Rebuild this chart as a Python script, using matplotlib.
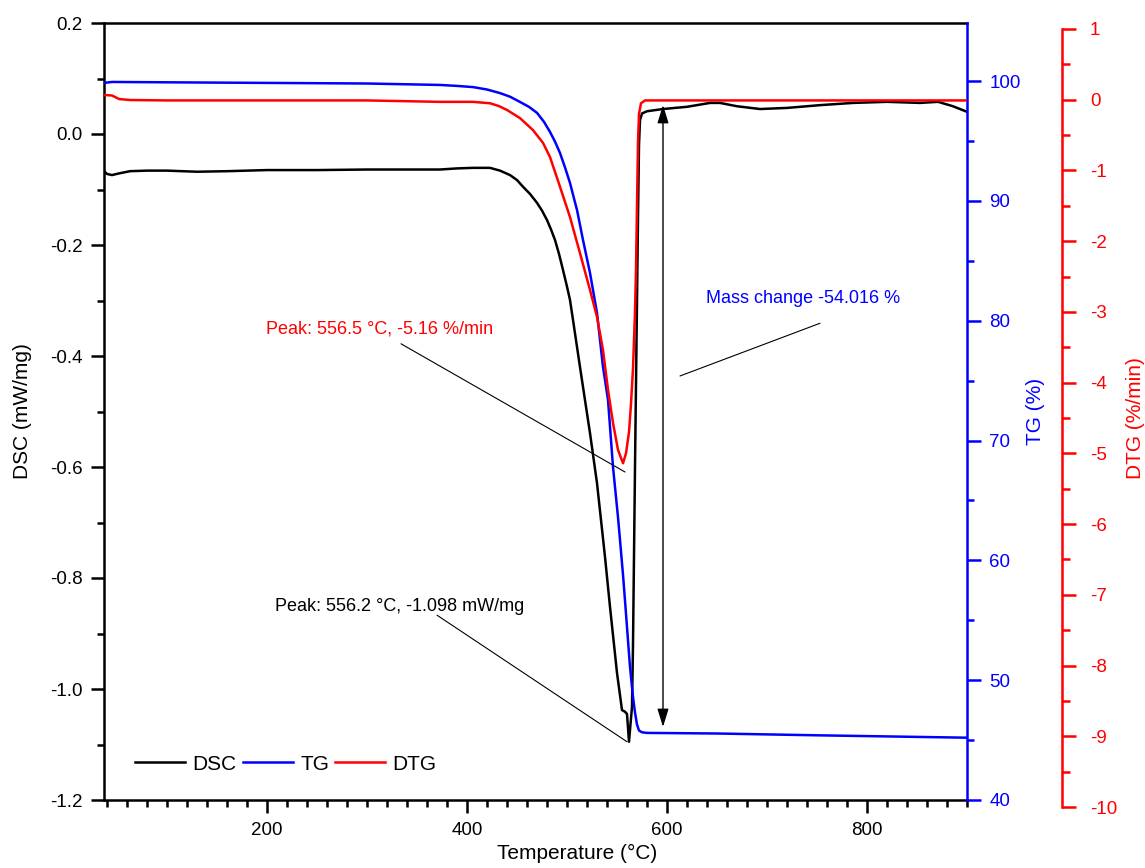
import numpy as np
import matplotlib
matplotlib.use("Agg")
import matplotlib.pyplot as plt
from matplotlib.ticker import MultipleLocator

plt.rcParams['font.family'] = ['Liberation Sans', 'DejaVu Sans']
plt.rcParams['axes.unicode_minus'] = False

# DSC (mW/mg)
t_dsc = [37, 40, 45, 52, 63, 80, 100, 130, 160, 200, 250, 300, 350, 373, 390, 406,
         423, 433, 443, 450, 456, 463, 470, 475, 480, 484, 488, 492, 496, 500, 503,
         506, 513, 523, 530, 538, 543, 550, 555, 558, 560, 562, 565, 566, 567, 568,
         569, 570, 571, 572, 573, 575, 580, 596, 620, 643, 653, 670, 693, 720, 753,
         786, 820, 853, 871, 886, 900]
dsc = [-0.067, -0.072, -0.074, -0.071, -0.067, -0.066, -0.066, -0.068, -0.067, -0.065,
       -0.065, -0.064, -0.064, -0.064, -0.062, -0.061, -0.061, -0.066, -0.074, -0.083,
       -0.095, -0.108, -0.124, -0.138, -0.155, -0.172, -0.191, -0.216, -0.245, -0.275,
       -0.299, -0.335, -0.420, -0.539, -0.629, -0.762, -0.852, -0.971, -1.038, -1.041,
       -1.045, -1.095, -1.032, -0.92, -0.76, -0.60, -0.45, -0.30, -0.15, -0.02, 0.025,
       0.037, 0.041, 0.045, 0.049, 0.056, 0.056, 0.050, 0.045, 0.047, 0.052, 0.056,
       0.058, 0.056, 0.058, 0.050, 0.040]

# TG (%)
t_tg = [37, 45, 100, 200, 300, 373, 390, 406, 420, 433, 443, 453, 462, 470, 477, 483,
        488, 493, 498, 503, 507, 510, 516, 523, 530, 536, 541, 546, 551, 553, 556,
        558.5, 563, 566, 568, 570, 572, 575, 580, 650, 750, 900]
tg = [99.85, 99.93, 99.9, 99.85, 99.8, 99.68, 99.6, 99.5, 99.3, 99.0, 98.7, 98.26,
      97.85, 97.35, 96.6, 95.76, 94.95, 94.0, 92.8, 91.5, 90.2, 89.25, 86.74, 83.99,
      80.65, 76.15, 73.4, 67.8, 63.6, 61.7, 58.8, 56.1, 51.1, 48.6, 47.3, 46.3, 45.8,
      45.65, 45.6, 45.55, 45.4, 45.2]

# DTG (%/min)
t_dtg = [37, 45, 52, 63, 100, 200, 300, 373, 406, 423, 432, 440, 453, 466, 476, 483,
         493, 503, 513, 523, 530, 536, 541, 546, 551, 556, 559, 562, 564, 566, 568,
         569, 570, 571, 572, 574, 578, 600, 700, 800, 900]
dtg = [0.067, 0.06, 0.01, -0.004, -0.01, -0.01, -0.01, -0.03, -0.03, -0.05, -0.09,
       -0.145, -0.26, -0.43, -0.61, -0.81, -1.23, -1.66, -2.17, -2.69, -3.07, -3.54,
       -4.10, -4.57, -4.95, -5.14, -5.0, -4.7, -4.3, -3.8, -3.0, -2.4, -1.5, -0.6,
       -0.2, -0.05, -0.01, -0.01, -0.01, -0.01, -0.01]

BLUE = '#0000FF'
RED = '#FF0000'

fig = plt.figure(figsize=(11.45, 8.68), dpi=100)
L, R = 104 / 1145, 967 / 1145
B, T = 68 / 868, 845 / 868
ax1 = fig.add_axes([L, B, R - L, T - B])
ax2 = ax1.twinx()
ax3 = fig.add_axes([L, 61 / 868, R - L, 778 / 868])
ax3.patch.set_visible(False)

l1, = ax1.plot(t_dsc, dsc, color='black', lw=1.8, label='DSC')
l2, = ax2.plot(t_tg, tg, color=BLUE, lw=1.8, label='TG')
l3, = ax3.plot(t_dtg, dtg, color=RED, lw=1.8, label='DTG')

for ax in (ax1, ax2, ax3):
    ax.set_xlim(37, 900)

# left axis
ax1.set_ylim(-1.2, 0.2)
ax1.yaxis.set_major_locator(MultipleLocator(0.2))
ax1.yaxis.set_minor_locator(MultipleLocator(0.1))
ax1.yaxis.set_major_formatter(plt.FuncFormatter(lambda v, p: f"{v:.1f}"))
ax1.xaxis.set_major_locator(MultipleLocator(200))
ax1.xaxis.set_minor_locator(MultipleLocator(20))
ax1.tick_params(which='both', direction='out', width=1.8, labelsize=13.5, pad=6)
ax1.tick_params(which='major', length=9.5)
ax1.tick_params(which='minor', length=5)
ax1.spines['right'].set_visible(False)
for s in ('left', 'bottom', 'top'):
    ax1.spines[s].set_linewidth(1.8)
ax1.set_xlabel('Temperature (°C)', fontsize=15)
ax1.set_ylabel('DSC (mW/mg)', fontsize=15)
ax1.xaxis.set_label_coords(0.548, -0.056)
ax1.yaxis.set_label_coords(-0.083, 0.5)

# TG axis
ax2.set_ylim(40, 104.85)
ax2.yaxis.set_major_locator(MultipleLocator(10))
ax2.yaxis.set_minor_locator(MultipleLocator(5))
for s in ('left', 'bottom', 'top'):
    ax2.spines[s].set_visible(False)
ax2.spines['right'].set_color(BLUE)
ax2.spines['right'].set_linewidth(1.8)
ax2.tick_params(which='both', direction='out', width=1.8, colors=BLUE,
                labelsize=13.5, pad=6)
ax2.tick_params(which='major', length=10)
ax2.tick_params(which='minor', length=5)
ax2.set_ylabel('TG (%)', color=BLUE, fontsize=15)
ax2.yaxis.set_label_coords(1.068, 0.5)

# DTG axis
ax3.set_ylim(-10, 1)
ax3.set_xticks([])
for s in ('left', 'bottom', 'top'):
    ax3.spines[s].set_visible(False)
ax3.yaxis.tick_right()
ax3.yaxis.set_label_position('right')
ax3.spines['right'].set_position(('outward', 68.4))
ax3.spines['right'].set_color(RED)
ax3.spines['right'].set_linewidth(1.8)
ax3.yaxis.set_major_locator(MultipleLocator(1))
ax3.yaxis.set_minor_locator(MultipleLocator(0.5))
ax3.tick_params(which='both', direction='out', width=1.8, colors=RED,
                labelsize=13.5, pad=10)
ax3.tick_params(which='major', length=10)
ax3.tick_params(which='minor', length=5.5)
ax3.set_ylabel('DTG (%/min)', color=RED, fontsize=15)
ax3.yaxis.set_label_coords(1.184, 0.5)

# annotations (drawn in DSC coordinates)
line_kw = dict(arrowstyle='-', lw=0.8, color='black', shrinkA=0, shrinkB=0)
ax3.annotate('', xy=(558, -0.609), xytext=(334, -0.378), xycoords=ax1.transData,
             textcoords=ax1.transData, arrowprops=line_kw)
ax3.text(199, -0.359, 'Peak: 556.5 °C, -5.16 %/min', color=RED, fontsize=13,
         transform=ax1.transData)
ax3.annotate('', xy=(560, -1.095), xytext=(370, -0.867), xycoords=ax1.transData,
             textcoords=ax1.transData, arrowprops=line_kw)
ax3.text(208, -0.859, 'Peak: 556.2 °C, -1.098 mW/mg', color='black', fontsize=13,
         transform=ax1.transData)
ax3.annotate('', xy=(613, -0.436), xytext=(753, -0.341), xycoords=ax1.transData,
             textcoords=ax1.transData, arrowprops=line_kw)
ax3.text(639, -0.305, 'Mass change -54.016 %', color=BLUE, fontsize=13,
         transform=ax1.transData)
ax3.annotate('', xy=(596, 98.0), xytext=(596, 46.1), xycoords=ax2.transData,
             textcoords=ax2.transData,
             arrowprops=dict(arrowstyle='<|-|>,head_length=0.55,head_width=0.17',
                             lw=1.0, color='black', shrinkA=0, shrinkB=0,
                             mutation_scale=20))

ax3.legend(handles=[l1, l2, l3], loc='center left', bbox_to_anchor=(0.036, 0.055),
           ncol=3, frameon=False, fontsize=15, handlelength=2.4,
           handletextpad=0.35, columnspacing=0.3, borderaxespad=0, borderpad=0)

fig.savefig('out.png', dpi=100)
